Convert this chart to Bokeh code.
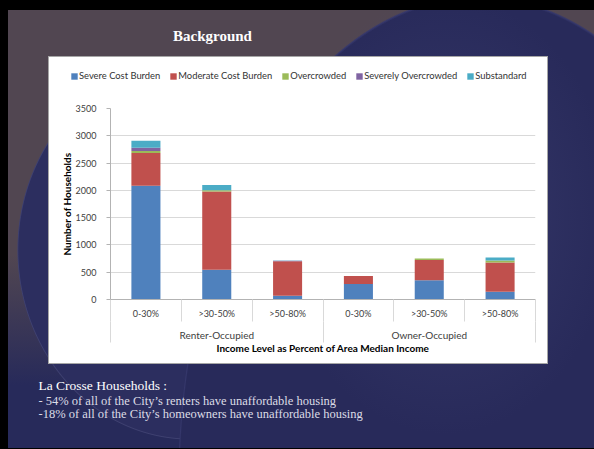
from bokeh.plotting import figure
from bokeh.models import (ColumnDataSource, Range1d, LinearAxis, FixedTicker, Legend,
                          LegendItem, Label, Spacer)
from bokeh.layouts import column, row
from bokeh.embed import file_html
from bokeh.resources import INLINE

# ---------------- data ----------------
income_levels = ["0-30%", ">30-50%", ">50-80%", "0-30%", ">30-50%", ">50-80%"]
tenure_groups = ["Renter-Occupied", "Owner-Occupied"]
series_names = ["Severe Cost Burden", "Moderate Cost Burden", "Overcrowded",
                "Severely Overcrowded", "Substandard"]
severe_cost_burden = [2085, 545, 70, 285, 355, 140]
moderate_cost_burden = [600, 1435, 630, 145, 370, 540]
overcrowded = [35, 20, 0, 0, 25, 35]
severely_overcrowded = [60, 0, 10, 0, 0, 0]
substandard = [130, 100, 5, 0, 0, 55]
y_ticks = [0, 500, 1000, 1500, 2000, 2500, 3000, 3500]
title_text = "Background"
x_axis_title = "Income Level as Percent of Area Median Income"
y_axis_title = "Number of Households"
note_lines = ["La Crosse Households :",
              " - 54% of all of the City\u2019s renters have unaffordable housing",
              "-18% of all of the City\u2019s homeowners have unaffordable housing"]

# ---------------- styles ----------------
H = 449
SERIES_COLORS = ["#4F81BD", "#C0504D", "#9BBB59", "#8064A2", "#4BACC6"]
CHART_FONT = "Lato"
SLIDE_FONT = "Liberation Serif"
AXIS_GRAY = "#b3b3b3"
GRID_GRAY = "#d9d9d9"

# slide background (CSS layers, top-most first)
bg_layers = [
    "linear-gradient(#000,#000) 0 0 / 100% 10px no-repeat",
    "linear-gradient(#000,#000) 0 0 / 8px 100% no-repeat",
    "linear-gradient(#000,#000) 0 448px / 100% 1px no-repeat",
    "linear-gradient(#fff,#fff) 49px 57px / 498px 306px no-repeat",
    "linear-gradient(#a6a6a6,#a6a6a6) 48px 56px / 500px 308px no-repeat",
    "radial-gradient(ellipse 170px 220px at 445px 215px, rgba(80,83,135,0.35), rgba(80,83,135,0) 100%) 0 0 / 100% 100% no-repeat",
    "radial-gradient(ellipse 300px 485px at 478px 481px, #282a5a 99.3%, #35376b 99.7%, rgba(40,42,90,0) 100%) 0 0 / 100% 100% no-repeat",
    "radial-gradient(ellipse 173px 190px at 190px 250px, #2c2e5f 99.0%, #3e4070 99.5%, rgba(44,46,95,0) 100%) 0 0 / 100% 100% no-repeat",
    "linear-gradient(to bottom, #514651 0px, #514651 255px, #272a5a 385px, #272a5a 449px) 0 0 / 100% 100% no-repeat",
]


def strip(y0, y1):
    return figure(width=594, height=y1 - y0, x_range=Range1d(0, 594),
                  y_range=Range1d(H - y1, H - y0), toolbar_location=None,
                  output_backend="svg", min_border=0, x_axis_type=None, y_axis_type=None,
                  outline_line_color=None, background_fill_color=None,
                  border_fill_color=None)


# ---------------- top strip (title + legend part of the chart box) ----------------
TOP_H = 90
top = strip(0, TOP_H)
top.add_layout(Label(x=212, y=H - 35, text=title_text, text_align="center",
                     text_baseline="middle", text_color="#ffffff",
                     text_font=SLIDE_FONT, text_font_size="15px",
                     text_font_style="bold"))
# legend keys: zero-height proxies in the same colours as the stacked bar series
proxies = [top.vbar(x=[0], top=[0], width=0.01, fill_color=c, line_color=None)
           for c in SERIES_COLORS]
legend = Legend(items=[LegendItem(label=n, renderers=[r]) for n, r in zip(series_names, proxies)],
                orientation="horizontal", location=(70, 9), glyph_width=8, glyph_height=8,
                label_standoff=1, spacing=9, padding=0, margin=0, border_line_color=None,
                background_fill_alpha=0, label_text_font=CHART_FONT,
                label_text_font_size="9.4px", label_text_color="#333333", label_height=8)
top.add_layout(legend)

# ---------------- bottom strip ----------------
bottom = strip(363, 449)
note_pos = [(38, 385, "13.5px", "#ffffff"), (38, 400, "12.5px", "#dcdce6"),
            (38, 413, "12.5px", "#dcdce6")]
for (nx, ny, fs, col), txt in zip(note_pos, note_lines):
    bottom.add_layout(Label(x=nx, y=H - ny, text=txt, text_align="left",
                            text_baseline="middle", text_color=col,
                            text_font=SLIDE_FONT, text_font_size=fs))

# ---------------- chart ----------------
n_cat = len(income_levels)
x_centers = [i + 0.5 for i in range(n_cat)]
per_group = n_cat // len(tenure_groups)
group_centers = [g * per_group + per_group / 2 for g in range(len(tenure_groups))]
eps = 0.002
cat_bounds = [min(max(i, eps), n_cat - eps) for i in range(n_cat + 1)]
group_bounds = [min(max(g * per_group, eps), n_cat - eps) for g in range(len(tenure_groups) + 1)]

keys = ["severe", "moderate", "over", "sevover", "sub"]
src = ColumnDataSource(dict(x=x_centers, severe=severe_cost_burden,
                            moderate=moderate_cost_burden, over=overcrowded,
                            sevover=severely_overcrowded, sub=substandard))

p = figure(width=498, height=363 - TOP_H, x_range=Range1d(0, n_cat),
           y_range=Range1d(0, y_ticks[-1]),
           toolbar_location=None, output_backend="svg", x_axis_type=None,
           min_border_left=61, min_border_right=12, min_border_top=108 - TOP_H,
           min_border_bottom=64,
           outline_line_color=None, background_fill_color="#ffffff",
           border_fill_color="#ffffff")

p.vbar_stack(keys, x="x", width=0.41, color=SERIES_COLORS, source=src, line_color=None)

yt = FixedTicker(ticks=y_ticks)
p.yaxis.ticker = yt
p.ygrid.ticker = yt
p.ygrid.grid_line_color = GRID_GRAY
p.yaxis.axis_line_color = AXIS_GRAY
p.yaxis.major_tick_line_color = AXIS_GRAY
p.yaxis.major_tick_out = 4
p.yaxis.major_tick_in = 0
p.yaxis.minor_tick_line_color = None
p.yaxis.major_label_standoff = 10
p.yaxis.major_label_text_font = CHART_FONT
p.yaxis.major_label_text_font_size = "9px"
p.yaxis.major_label_text_color = "#404040"
p.yaxis.axis_label = y_axis_title
p.yaxis.axis_label_text_font = CHART_FONT
p.yaxis.axis_label_text_font_size = "10px"
p.yaxis.axis_label_text_font_style = "bold"
p.yaxis.axis_label_text_color = "#000000"
p.yaxis.axis_label_standoff = 0

ax1 = LinearAxis(ticker=FixedTicker(ticks=x_centers, minor_ticks=cat_bounds),
                 major_label_overrides={c: lab for c, lab in zip(x_centers, income_levels)},
                 major_tick_out=0, major_tick_in=0, minor_tick_out=22, minor_tick_in=0,
                 major_label_standoff=-14, axis_line_color=AXIS_GRAY,
                 minor_tick_line_color=GRID_GRAY, major_label_text_font=CHART_FONT,
                 major_label_text_font_size="9px", major_label_text_color="#404040")
ax2 = LinearAxis(ticker=FixedTicker(ticks=group_centers, minor_ticks=group_bounds),
                 major_label_overrides={c: lab for c, lab in zip(group_centers, tenure_groups)},
                 major_tick_out=0, major_tick_in=0, minor_tick_out=21, minor_tick_in=0,
                 major_label_standoff=-14, axis_line_color=None,
                 minor_tick_line_color=GRID_GRAY, major_label_text_font=CHART_FONT,
                 major_label_text_font_size="10px", major_label_text_color="#404040",
                 axis_label=x_axis_title, axis_label_standoff=-2,
                 axis_label_text_font=CHART_FONT, axis_label_text_font_size="10px",
                 axis_label_text_font_style="bold", axis_label_text_color="#000000")
p.add_layout(ax1, "below")
p.add_layout(ax2, "below")

layout = column(top, row(Spacer(width=49, height=363 - TOP_H), p,
                         Spacer(width=47, height=363 - TOP_H)), bottom)
layout.styles = {"background": ", ".join(bg_layers)}

open("out.html", "w").write(file_html(layout, INLINE))
